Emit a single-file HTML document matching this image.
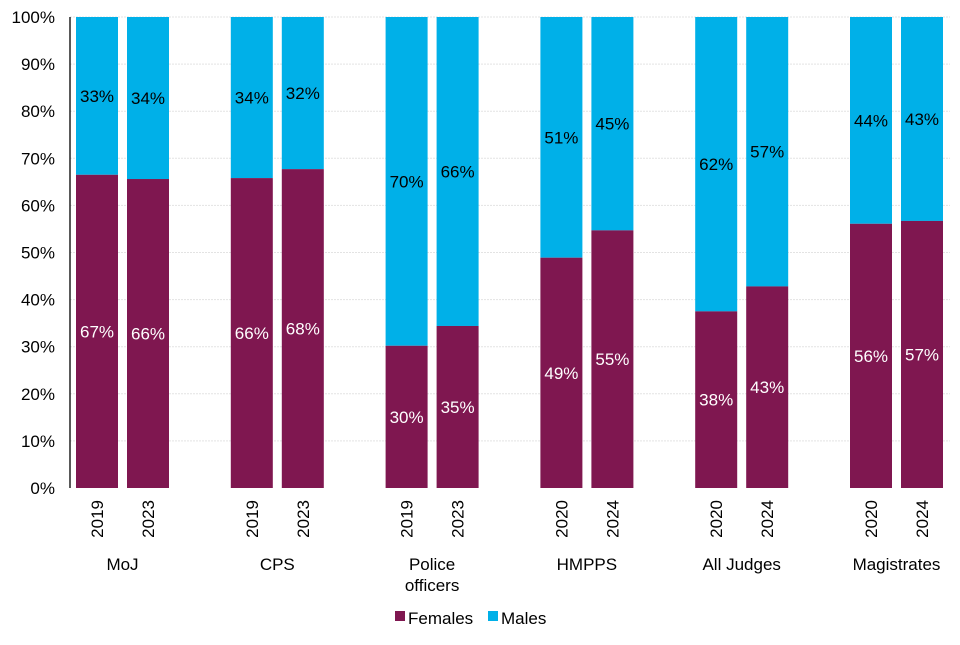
<!DOCTYPE html>
<html><head><meta charset="utf-8"><style>
body{margin:0;background:#fff}
svg{font-family:"Liberation Sans",Arial,sans-serif}
</style></head><body>
<svg id="chart" width="960" height="640" xmlns="http://www.w3.org/2000/svg"></svg>
<script>
const groups = ["MoJ","CPS","Police officers","HMPPS","All Judges","Magistrates"];
const years = ["2019","2023","2019","2023","2019","2023","2020","2024","2020","2024","2020","2024"];
const females = [66.5,65.6,65.8,67.7,30.2,34.4,48.9,54.7,37.5,42.8,56.1,56.7];
const femaleLabels = ["67%","66%","66%","68%","30%","35%","49%","55%","38%","43%","56%","57%"];
const maleLabels = ["33%","34%","34%","32%","70%","66%","51%","45%","62%","57%","44%","43%"];
const yTicks = [0,10,20,30,40,50,60,70,80,90,100];

const NS="http://www.w3.org/2000/svg";
const svg=document.getElementById('chart');
const top0=17, bot=488;
const y=v=>bot-(bot-top0)*v/100;
const bw=42;
const x=i=>76+Math.floor(i/2)*154.8+(i%2)*51;
function mk(t,a,p){const e=document.createElementNS(NS,t);for(const k in a)e.setAttribute(k,a[k]);(p||svg).appendChild(e);return e;}
const grid=mk('g',{});


yTicks.forEach(t=>{
  if(t>0){const l=mk('line',{x1:70,x2:950,y1:y(t),y2:y(t),stroke:'#e3e3e3','stroke-width':1,'stroke-dasharray':'2,1'},grid);
  
  }
  const tx=mk('text',{x:55,y:y(t)+6,'text-anchor':'end','font-size':17,fill:'#000'});
  tx.textContent=t+'%';
  
  
});
const ax=mk('line',{x1:70,x2:70,y1:top0,y2:bot,stroke:'#000','stroke-width':1.3});


females.forEach((f,i)=>{
  const m=mk('rect',{x:x(i),y:y(100),width:bw,height:y(f)-y(100),fill:'#00B0E8'});
  
  
  const r=mk('rect',{x:x(i),y:y(f),width:bw,height:bot-y(f),fill:'#7F1750'});
  
  
  const fl=mk('text',{x:x(i)+bw/2,y:y(f/2)+6,'text-anchor':'middle','font-size':17,fill:'#fff'});
  fl.textContent=femaleLabels[i];
  
  
  const ml=mk('text',{x:x(i)+bw/2,y:y((100+f)/2)+6,'text-anchor':'middle','font-size':17,fill:'#000'});
  ml.textContent=maleLabels[i];
  
  
  const cx=x(i)+bw/2+6;
  const yl=mk('text',{x:cx,y:500,'text-anchor':'end','font-size':17,fill:'#000',transform:`rotate(-90 ${cx} 500)`});
  yl.textContent=years[i];
  
  
});
groups.forEach((g,k)=>{
  const cx=(x(2*k)+x(2*k+1)+bw)/2;
  const t=mk('text',{x:cx,y:570,'text-anchor':'middle','font-size':17,fill:'#000'});
  
  
  if(g==="Police officers"){
    const a=mk('tspan',{x:cx,y:570},t);a.textContent="Police";
    const b=mk('tspan',{x:cx,y:591},t);b.textContent="officers";
  } else t.textContent=g;
});
const lg=mk('g',{});


const l1=mk('rect',{x:395,y:611,width:10,height:10,fill:'#7F1750'},lg);


const t1=mk('text',{x:408,y:624,'font-size':17,fill:'#000'},lg);t1.textContent="Females";


const l2=mk('rect',{x:488,y:611,width:10,height:10,fill:'#00B0E8'},lg);


const t2=mk('text',{x:501,y:624,'font-size':17,fill:'#000'},lg);t2.textContent="Males";


</script>
</body></html>
